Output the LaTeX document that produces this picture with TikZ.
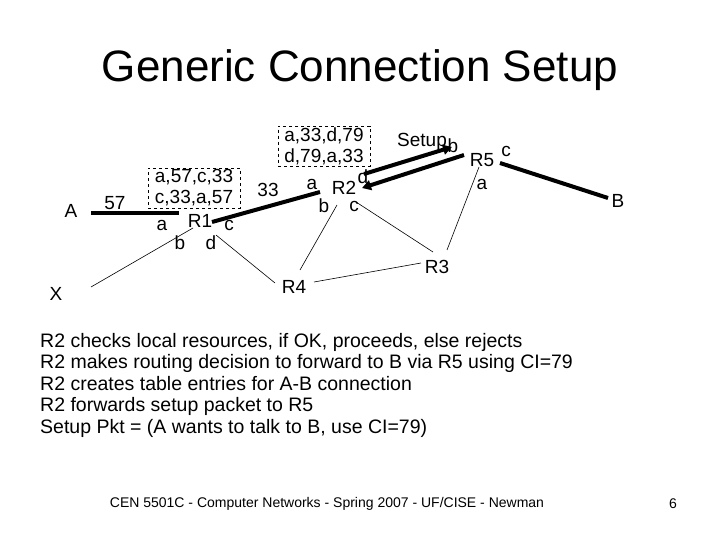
\documentclass[tikz,border=0pt]{standalone}
\usepackage{fontspec}
\setmainfont{Liberation Sans}
\usetikzlibrary{arrows.meta}
\begin{document}
\begin{tikzpicture}[x=1pt,y=-1pt,
  lbl/.style={font=\fontsize{19}{21}\selectfont,inner sep=0pt},
  thick line/.style={line width=4pt},
  thin line/.style={line width=0.6pt},
  tbl/.style={draw,dashed,line width=0.6pt,font=\fontsize{19}{21}\selectfont,align=center,inner sep=1.5pt,minimum width=92pt}]
\useasboundingbox (0,0) rectangle (720,540);
\node[font=\fontsize{44}{48}\selectfont] (title) at (360,70) {Generic Connection Setup};
\node[lbl] (A) at (71,211) {A};
\node[lbl] (X) at (56,294) {X};
\node[lbl] (B) at (618,201) {B};
\node[lbl] (R1) at (200,221) {R1};
\node[lbl] (R2) at (344,188) {R2};
\node[lbl] (R3) at (437,267) {R3};
\node[lbl] (R4) at (294,287) {R4};
\node[lbl] (R5) at (482,160) {R5};
\node[lbl] (l57) at (115,203) {57};
\node[lbl] (l33) at (268,190) {33};
\node[lbl] (r1a) at (162,225) {a};
\node[lbl] (r1c) at (229,225) {c};
\node[lbl] (r1b) at (180,243) {b};
\node[lbl] (r1d) at (211,243) {d};
\node[lbl] (r2a) at (312,184) {a};
\node[lbl] (r2d) at (363,177) {d};
\node[lbl] (r2b) at (324,206) {b};
\node[lbl] (r2c) at (354,206) {c};
\node[lbl] (r5b) at (453,146) {b};
\node[lbl] (r5c) at (506,151) {c};
\node[lbl] (r5a) at (482,184) {a};
\node[lbl] (setup) at (422,142) {Setup};
\node[tbl] (t1) at (194,188) {a,57,c,33\\c,33,a,57};
\node[tbl] (t2) at (324,146) {a,33,d,79\\d,79,a,33};
\draw[thick line] (91,213) -- (179,213);
\draw[thick line] (212,222) -- (320,192);
\draw[thick line,-{Triangle[length=9pt,width=10pt]}] (464,155) -- (362,188);
\draw[thick line,-{Triangle[length=9pt,width=10pt]}] (364,174) -- (452,147);
\draw[thick line] (500,163) -- (608,198);
\draw[thin line] (193,228) -- (91,287);
\draw[thin line] (216,235) -- (275,283);
\draw[thin line] (337,205) -- (300,270);
\draw[thin line] (356,202) -- (433,252);
\draw[thin line] (314,282) -- (421,263);
\draw[thin line] (479,167) -- (447,250);
\node[anchor=west,align=left,inner sep=0pt,font=\fontsize{19.5}{21.5}\selectfont] (text) at (40,385) {R2 checks local resources, if OK, proceeds, else rejects\\R2 makes routing decision to forward to B via R5 using CI=79\\R2 creates table entries for A-B connection\\R2 forwards setup packet to R5\\Setup Pkt = (A wants to talk to B, use CI=79)};
\node[font=\fontsize{14}{16}\selectfont] (foot) at (327,504) {CEN 5501C - Computer Networks - Spring 2007 - UF/CISE - Newman};
\node[font=\fontsize{14}{16}\selectfont] (pg) at (673,504) {6};
\end{tikzpicture}
\end{document}
